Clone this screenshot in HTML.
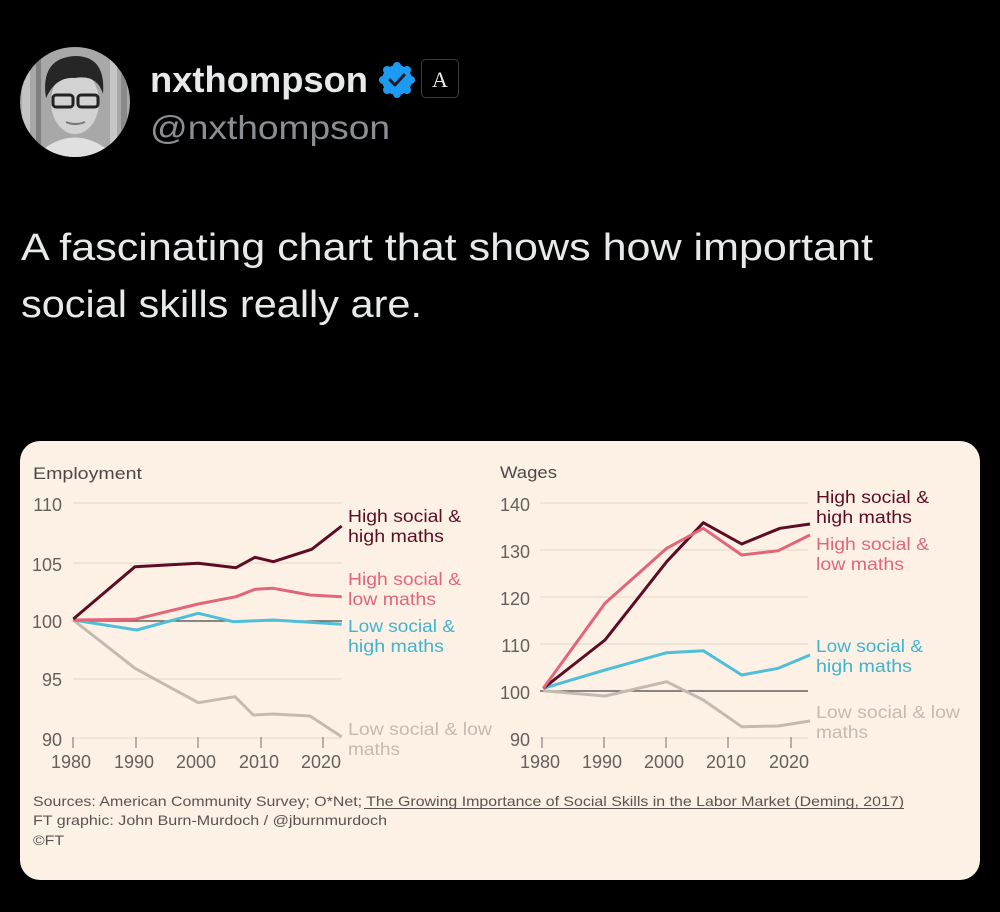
<!DOCTYPE html>
<html><head><meta charset="utf-8"><style>
html,body{margin:0;padding:0;background:#000;}
svg{display:block;}
</style></head><body>
<svg width="1000" height="912" viewBox="0 0 1000 912" xmlns="http://www.w3.org/2000/svg">
<rect width="1000" height="912" fill="#000"/>
<defs><clipPath id="av"><circle cx="75" cy="102" r="55"/></clipPath></defs>
<g clip-path="url(#av)">
<rect x="20" y="47" width="110" height="110" fill="#a8a8a8"/>
<rect x="22" y="47" width="8" height="110" fill="#c4c4c4"/>
<rect x="36" y="47" width="5" height="110" fill="#808080"/>
<rect x="110" y="47" width="7" height="110" fill="#c6c6c6"/>
<rect x="121" y="47" width="6" height="110" fill="#8a8a8a"/>
<path d="M42 150 Q75 125 108 150 L108 160 L42 160Z" fill="#e0e0e0"/>
<ellipse cx="75" cy="102" rx="24" ry="32" fill="#d2d2d2"/>
<path d="M46 98 Q40 58 75 56 Q106 56 103 94 Q97 74 75 78 Q56 76 46 98Z" fill="#262626"/>
<rect x="53" y="95" width="20" height="12" rx="3" fill="none" stroke="#222" stroke-width="3"/>
<rect x="78" y="95" width="20" height="12" rx="3" fill="none" stroke="#222" stroke-width="3"/>
<path d="M66 122 Q75 126 85 122" stroke="#777" stroke-width="2" fill="none"/>
</g>
<text x="150" y="92" font-family="Liberation Sans, sans-serif" font-weight="bold" font-size="36" fill="#e7e9ea" textLength="218" lengthAdjust="spacingAndGlyphs">nxthompson</text>
<circle cx="397" cy="80" r="15" fill="#1d9bf0"/>
<g fill="#1d9bf0"><circle cx="397" cy="66" r="4"/><circle cx="397" cy="94" r="4"/><circle cx="383" cy="80" r="4"/><circle cx="411" cy="80" r="4"/><circle cx="387" cy="70" r="4"/><circle cx="407" cy="70" r="4"/><circle cx="387" cy="90" r="4"/><circle cx="407" cy="90" r="4"/></g>
<path d="M390 80 L395 85 L404 75" stroke="#0f1a2a" stroke-width="3" fill="none" stroke-linecap="round" stroke-linejoin="round"/>
<rect x="421.5" y="59.5" width="37" height="38" rx="4" fill="#000" stroke="#3a3a3a" stroke-width="1"/>
<text x="440" y="87" text-anchor="middle" font-family="Liberation Serif, serif" font-size="22" fill="#e7e9ea">A</text>
<text x="150" y="139" font-family="Liberation Sans, sans-serif" font-size="33" fill="#8b8f93" textLength="240" lengthAdjust="spacingAndGlyphs">@nxthompson</text>
<text x="21" y="260" font-family="Liberation Sans, sans-serif" font-size="38" fill="#e7e9ea" textLength="852" lengthAdjust="spacingAndGlyphs">A fascinating chart that shows how important</text>
<text x="21" y="317" font-family="Liberation Sans, sans-serif" font-size="38" fill="#e7e9ea" textLength="401" lengthAdjust="spacingAndGlyphs">social skills really are.</text>
<rect x="20" y="441" width="960" height="439" rx="20" fill="#fdf1e6"/>
<g font-family="Liberation Sans, sans-serif">
<!-- Left chart -->
<text x="33" y="479" font-size="17" fill="#4d4845" textLength="109" lengthAdjust="spacingAndGlyphs">Employment</text>
<g stroke="#e8dccf" stroke-width="1.2">
<line x1="73" y1="503" x2="342" y2="503"/><line x1="73" y1="563" x2="342" y2="563"/><line x1="73" y1="679" x2="342" y2="679"/><line x1="73" y1="738" x2="342" y2="738"/>
</g>
<line x1="73" y1="621" x2="342" y2="621" stroke="#4a4340" stroke-width="1.3"/>
<g stroke="#8a827c" stroke-width="1.2">
<line x1="73" y1="737" x2="73" y2="748"/><line x1="136" y1="737" x2="136" y2="748"/><line x1="198" y1="737" x2="198" y2="748"/><line x1="261" y1="737" x2="261" y2="748"/><line x1="323" y1="737" x2="323" y2="748"/>
</g>
<g font-size="18" fill="#66605c" text-anchor="end">
<text x="62" y="511">110</text><text x="62" y="571">105</text><text x="62" y="628">100</text><text x="62" y="686">95</text><text x="62" y="746">90</text>
</g>
<g font-size="18" fill="#66605c" text-anchor="middle">
<text x="71" y="768">1980</text><text x="134" y="768">1990</text><text x="196" y="768">2000</text><text x="259" y="768">2010</text><text x="321" y="768">2020</text>
</g>
<g fill="none" stroke-width="3" stroke-linejoin="round">
<polyline stroke="#c4bab0" points="73.3,620 135,668.3 198.3,702.7 235,696.7 253.3,715 273.3,714 310,716 341.7,736.7"/>
<polyline stroke="#4fbfd9" points="73.3,620 136.7,630 198.3,613.3 233.3,621.7 273.3,620 341.7,624.3"/>
<polyline stroke="#e2667a" points="73.3,620 135,619.3 198.3,604 236,596.7 255,589.3 273.3,588.3 310,595 341.7,596.7"/>
<polyline stroke="#5c0d24" points="73.3,619 135,566.7 198.3,563.3 236,567.7 255,557.3 273.3,561.7 311.7,549.3 341.7,526"/>
</g>
<g font-size="17.5">
<text x="348" y="522" fill="#5c0d24" textLength="113" lengthAdjust="spacingAndGlyphs">High social &amp;</text>
<text x="348" y="542" fill="#5c0d24" textLength="96" lengthAdjust="spacingAndGlyphs">high maths</text>
<text x="348" y="585" fill="#e2667a" textLength="113" lengthAdjust="spacingAndGlyphs">High social &amp;</text>
<text x="348" y="605" fill="#e2667a" textLength="88" lengthAdjust="spacingAndGlyphs">low maths</text>
<text x="348" y="632" fill="#3fb3cf" textLength="107" lengthAdjust="spacingAndGlyphs">Low social &amp;</text>
<text x="348" y="652" fill="#3fb3cf" textLength="96" lengthAdjust="spacingAndGlyphs">high maths</text>
<text x="348" y="735" fill="#c4bab0" textLength="144" lengthAdjust="spacingAndGlyphs">Low social &amp; low</text>
<text x="348" y="755" fill="#c4bab0" textLength="52" lengthAdjust="spacingAndGlyphs">maths</text>
</g>
<!-- Right chart -->
<text x="500" y="478" font-size="17" fill="#4d4845" textLength="57" lengthAdjust="spacingAndGlyphs">Wages</text>
<g stroke="#e8dccf" stroke-width="1.2">
<line x1="540" y1="503" x2="808" y2="503"/><line x1="540" y1="550" x2="808" y2="550"/><line x1="540" y1="597" x2="808" y2="597"/><line x1="540" y1="644" x2="808" y2="644"/><line x1="540" y1="738" x2="808" y2="738"/>
</g>
<line x1="540" y1="691" x2="808" y2="691" stroke="#4a4340" stroke-width="1.3"/>
<g stroke="#8a827c" stroke-width="1.2">
<line x1="542" y1="737" x2="542" y2="748"/><line x1="604" y1="737" x2="604" y2="748"/><line x1="666" y1="737" x2="666" y2="748"/><line x1="728" y1="737" x2="728" y2="748"/><line x1="791" y1="737" x2="791" y2="748"/>
</g>
<g font-size="18" fill="#66605c" text-anchor="end">
<text x="530" y="511">140</text><text x="530" y="558">130</text><text x="530" y="605">120</text><text x="530" y="652">110</text><text x="530" y="699">100</text><text x="530" y="746">90</text>
</g>
<g font-size="18" fill="#66605c" text-anchor="middle">
<text x="540" y="768">1980</text><text x="602" y="768">1990</text><text x="664" y="768">2000</text><text x="726" y="768">2010</text><text x="789" y="768">2020</text>
</g>
<g fill="none" stroke-width="3" stroke-linejoin="round">
<polyline stroke="#c4bab0" points="543.3,690.7 605,696 666.7,681.7 703.3,700 741.7,726.7 778.3,726 810,721"/>
<polyline stroke="#4fbfd9" points="543.3,688.3 605,670 666.7,652.7 703.3,650.7 741.7,675 778.3,668.3 810,655"/>
<polyline stroke="#5c0d24" points="543.3,688.3 605,640 666.7,561.7 703.3,522.7 741.7,544 780,528.3 810,524"/>
<polyline stroke="#e2667a" points="543.3,688.3 605,603.3 666.7,548.3 703.3,528.3 741.7,555 778.3,550.7 810,535"/>
</g>
<g font-size="17.5">
<text x="816" y="503" fill="#5c0d24" textLength="113" lengthAdjust="spacingAndGlyphs">High social &amp;</text>
<text x="816" y="523" fill="#5c0d24" textLength="96" lengthAdjust="spacingAndGlyphs">high maths</text>
<text x="816" y="550" fill="#e2667a" textLength="113" lengthAdjust="spacingAndGlyphs">High social &amp;</text>
<text x="816" y="570" fill="#e2667a" textLength="88" lengthAdjust="spacingAndGlyphs">low maths</text>
<text x="816" y="652" fill="#3fb3cf" textLength="107" lengthAdjust="spacingAndGlyphs">Low social &amp;</text>
<text x="816" y="672" fill="#3fb3cf" textLength="96" lengthAdjust="spacingAndGlyphs">high maths</text>
<text x="816" y="718" fill="#c4bab0" textLength="144" lengthAdjust="spacingAndGlyphs">Low social &amp; low</text>
<text x="816" y="738" fill="#c4bab0" textLength="52" lengthAdjust="spacingAndGlyphs">maths</text>
</g>
<!-- Footer -->
<g font-size="14" fill="#5a534f">
<text x="33" y="806" textLength="871" lengthAdjust="spacingAndGlyphs">Sources: American Community Survey; O*Net; The Growing Importance of Social Skills in the Labor Market (Deming, 2017)</text>
<text x="33" y="825" textLength="354" lengthAdjust="spacingAndGlyphs">FT graphic: John Burn-Murdoch / @jburnmurdoch</text>
<text x="33" y="845" textLength="31" lengthAdjust="spacingAndGlyphs">©FT</text>
</g>
<line x1="364" y1="808.5" x2="904" y2="808.5" stroke="#5a534f" stroke-width="1"/>
</g>
</svg>
</body></html>
